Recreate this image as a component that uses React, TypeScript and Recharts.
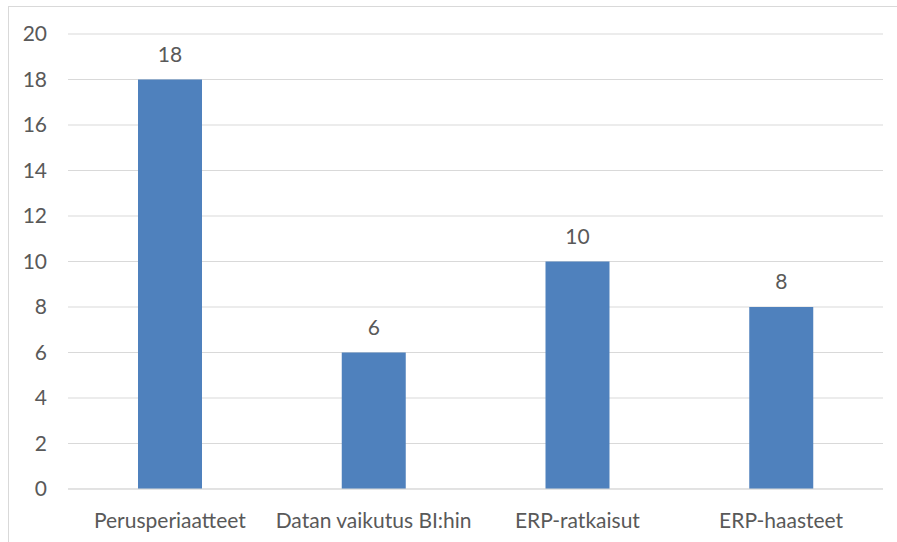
import { Bar, BarChart, CartesianGrid, LabelList, XAxis, YAxis } from "recharts";

const categories = [
  "Perusperiaatteet",
  "Datan vaikutus BI:hin",
  "ERP-ratkaisut",
  "ERP-haasteet",
];
const counts = [18, 6, 10, 8];
const yTicks = [0, 2, 4, 6, 8, 10, 12, 14, 16, 18, 20];

const data = categories.map((name, i) => ({ name, value: counts[i] }));

const font = "Lato, 'Open Sans', sans-serif";
const textColor = "#595959";
const fontSize = 21;

export default function App() {
  return (
    <div style={{ position: "fixed", left: 0, top: 0, width: 897, height: 542, background: "#fff" }}>
      <div
        style={{
          position: "absolute",
          left: 8,
          top: 6,
          width: 900,
          height: 545,
          border: "1px solid #d9d9d9",
          boxSizing: "border-box",
        }}
      />
      <div style={{ position: "absolute", left: 0, top: 0 }}>
        <BarChart
          width={897}
          height={542}
          data={data}
          margin={{ top: 34, right: 14, left: 28, bottom: 13 }}
          style={{ fontFamily: font }}
        >
          <CartesianGrid vertical={false} stroke="#d9d9d9" strokeWidth={1} />
          <XAxis
            dataKey="name"
            height={40}
            tickSize={0}
            tickMargin={24}
            axisLine={{ stroke: "#d9d9d9" }}
            tick={{ fill: textColor, fontSize, fontFamily: font }}
          />
          <YAxis
            width={40}
            domain={[0, 20]}
            ticks={yTicks}
            tickSize={0}
            tickMargin={21}
            axisLine={false}
            tick={{ fill: textColor, fontSize, fontFamily: font }}
          />
          <Bar dataKey="value" fill="#4F81BD" barSize={64} isAnimationActive={false}>
            <LabelList
              dataKey="value"
              position="top"
              offset={18}
              fill={textColor}
              fontSize={fontSize}
              fontFamily={font}
            />
          </Bar>
        </BarChart>
      </div>
    </div>
  );
}
